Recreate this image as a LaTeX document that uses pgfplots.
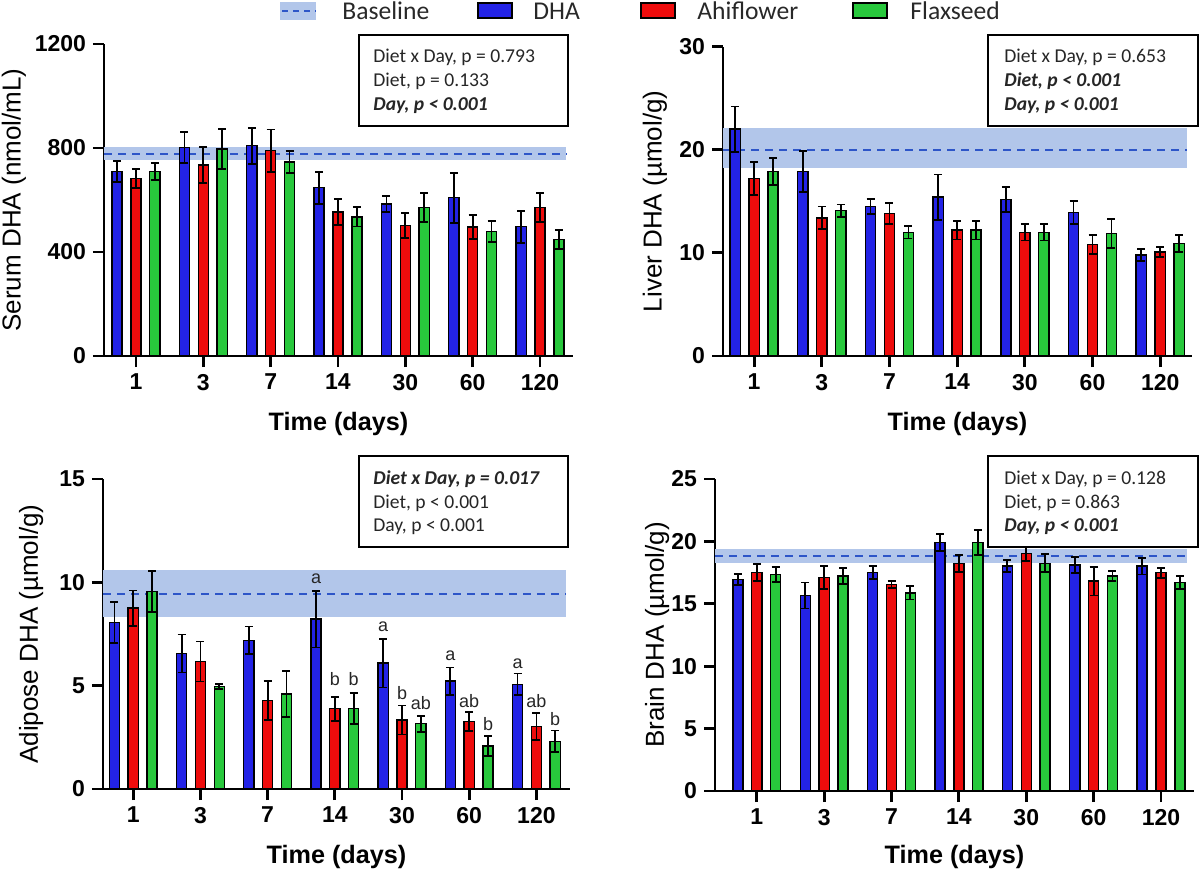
\documentclass[border=0pt]{standalone}
\usepackage{pgfplots}
\pgfplotsset{compat=1.18}
\usepackage{pgfplotstable}
\usepackage{fontspec}
\setmainfont{Liberation Sans}
\newfontfamily\carl{Carlito}

\definecolor{cB}{RGB}{35,35,230}
\definecolor{cR}{RGB}{238,12,12}
\definecolor{cG}{RGB}{40,200,60}
\definecolor{band}{RGB}{178,198,234}
\definecolor{dashc}{RGB}{45,85,200}
\definecolor{legtxt}{RGB}{40,40,40}

\pgfplotstableread{
x B Be R Re G Ge
0 709 41 683 37 709 32
1 803 60 735 70 796 77
2 809 69 790 81 746 42
3 647 61 554 49 535 37
4 585 30 503 48 572 56
5 609 96 496 45 478 40
6 497 62 571 56 449 36
}\serum

\pgfplotstableread{
x B Be R Re G Ge
0 22.0 2.2 17.2 1.6 17.9 1.3
1 17.9 2.0 13.4 1.1 14.1 0.6
2 14.5 0.7 13.8 1.0 12.0 0.6
3 15.4 2.2 12.2 0.9 12.2 0.9
4 15.2 1.2 12.0 0.8 12.0 0.8
5 13.9 1.1 10.8 0.9 11.9 1.4
6 9.8 0.6 10.1 0.5 10.9 0.8
}\liver

\pgfplotstableread{
x B Be R Re G Ge
0 8.06 0.98 8.75 0.86 9.56 1.00
1 6.56 0.92 6.17 0.97 4.97 0.13
2 7.19 0.67 4.28 0.95 4.60 1.10
3 8.22 1.37 3.89 0.58 3.89 0.74
4 6.09 1.18 3.34 0.70 3.16 0.39
5 5.22 0.66 3.26 0.45 2.08 0.47
6 5.07 0.52 3.02 0.65 2.31 0.52
}\adipose

\pgfplotstableread{
x B Be R Re G Ge
0 16.95 0.43 17.49 0.67 17.35 0.62
1 15.67 1.04 17.11 0.91 17.22 0.64
2 17.49 0.53 16.55 0.29 15.88 0.54
3 19.92 0.67 18.24 0.66 19.92 0.99
4 18.02 0.48 19.04 0.60 18.24 0.72
5 18.10 0.62 16.82 1.15 17.22 0.40
6 18.02 0.67 17.49 0.40 16.71 0.51
}\brain

\pgfplotsset{
  panel/.style={
    scale only axis, anchor=south west,
    axis x line*=bottom, axis y line*=left,
    axis line style={line width=1.4pt, black},
    tick style={line width=1.4pt, black},
    major tick length=5.5pt, tick align=outside,
    xtick={0,...,6}, xticklabels={1,3,7,14,30,60,120},
    xticklabel style={font=\bfseries\fontsize{11.5}{12}\selectfont},
    yticklabel style={font=\bfseries\fontsize{11.5}{12}\selectfont},
    /pgf/number format/assume math mode=true,
    /pgf/number format/1000 sep={},
    ymin=0, clip=false,
    xlabel={Time (days)},
    xlabel style={font=\bfseries\fontsize{12.6}{14}\selectfont, at={(axis description cs:0.5,0)}, anchor=base, yshift=-37pt},
    ylabel style={font=\fontsize{13}{14}\selectfont, anchor=center},
  },
  bb/.style={ybar, bar shift=0pt, bar width=0.15, fill=#1, draw=black, line width=0.7pt,
    /pgfplots/error bars/y dir=both, /pgfplots/error bars/y explicit,
    /pgfplots/error bars/error bar style={line width=0.9pt, black},
    /pgfplots/error bars/error mark options={rotate=90, mark size=2pt, line width=0.9pt, black}},
  bandst/.style={fill=band, draw=none, forget plot},
  dashst/.style={dashc, line width=1pt, dash pattern=on 4pt off 3pt, forget plot},
}

\newcommand\px[2]{({#1*0.5pt},{-#2*0.5pt})}

\begin{document}
\begin{tikzpicture}
\useasboundingbox (0,0) rectangle (600pt,-437pt);

% ---------- Serum ----------
\begin{axis}[panel, at={(52pt,-178pt)}, width=234.5pt, height=156pt,
  xmin=-0.475, xmax=6.49, ymax=1200, ytick={0,400,800,1200},
  ylabel={Serum DHA (nmol/mL)}, ylabel style={at={(axis description cs:-0.192,0.5)}}]
\addplot[bandst] coordinates {(-0.475,754) (6.39,754) (6.39,803) (-0.475,803)} -- cycle;
\addplot[dashst] coordinates {(-0.475,777) (6.39,777)};
\addplot[bb=cB] table[x expr=\thisrow{x}-0.28, y=B, y error=Be] {\serum};
\addplot[bb=cR] table[x=x, y=R, y error=Re] {\serum};
\addplot[bb=cG] table[x expr=\thisrow{x}+0.28, y=G, y error=Ge] {\serum};
\end{axis}

% ---------- Liver ----------
\begin{axis}[panel, at={(361.5pt,-178pt)}, width=234.5pt, height=154.7pt,
  xmin=-0.46, xmax=6.47, ymax=30, ytick={0,10,20,30},
  ylabel={Liver DHA (µmol/g)}, ylabel style={at={(axis description cs:-0.145,0.5)}}]
\addplot[bandst] coordinates {(-0.46,18.2) (6.40,18.2) (6.40,22.1) (-0.46,22.1)} -- cycle;
\addplot[dashst] coordinates {(-0.46,20.0) (6.40,20.0)};
\addplot[bb=cB] table[x expr=\thisrow{x}-0.28, y=B, y error=Be] {\liver};
\addplot[bb=cR] table[x=x, y=R, y error=Re] {\liver};
\addplot[bb=cG] table[x expr=\thisrow{x}+0.28, y=G, y error=Ge] {\liver};
\end{axis}

% ---------- Adipose ----------
\begin{axis}[panel, at={(51.5pt,-394.5pt)}, width=233.5pt, height=155pt,
  xmin=-0.45, xmax=6.5, ymax=15, ytick={0,5,10,15},
  ylabel={Adipose DHA (µmol/g)}, ylabel style={at={(axis description cs:-0.154,0.5)}}]
\addplot[bandst] coordinates {(-0.45,8.32) (6.44,8.32) (6.44,10.58) (-0.45,10.58)} -- cycle;
\addplot[dashst] coordinates {(-0.45,9.45) (6.44,9.45)};
\addplot[bb=cB] table[x expr=\thisrow{x}-0.28, y=B, y error=Be] {\adipose};
\addplot[bb=cR] table[x=x, y=R, y error=Re] {\adipose};
\addplot[bb=cG] table[x expr=\thisrow{x}+0.28, y=G, y error=Ge] {\adipose};
\begin{scope}[every node/.style={font=\fontsize{9}{10}\selectfont, anchor=base, inner sep=0pt, text=black!85}]
\node at (axis cs:2.72,9.96) {a};
\node at (axis cs:3,4.99) {b};
\node at (axis cs:3.28,4.99) {b};
\node at (axis cs:3.72,7.62) {a};
\node at (axis cs:4,4.34) {b};
\node at (axis cs:4.28,3.86) {ab};
\node at (axis cs:4.72,6.2) {a};
\node at (axis cs:5,3.94) {ab};
\node at (axis cs:5.28,2.81) {b};
\node at (axis cs:5.72,5.85) {a};
\node at (axis cs:6,3.94) {ab};
\node at (axis cs:6.28,3.05) {b};
\end{scope}
\end{axis}

% ---------- Brain ----------
\begin{axis}[panel, at={(357.5pt,-395.5pt)}, width=239.5pt, height=156pt,
  xmin=-0.62, xmax=6.49, ymax=25, ytick={0,5,10,15,20,25},
  xlabel style={yshift=1pt},
  ylabel={Brain DHA (µmol/g)}, ylabel style={at={(axis description cs:-0.121,0.5)}}]
\addplot[bandst] coordinates {(-0.62,18.29) (6.39,18.29) (6.39,19.36) (-0.62,19.36)} -- cycle;
\addplot[dashst] coordinates {(-0.62,18.8) (6.39,18.8)};
\addplot[bb=cB] table[x expr=\thisrow{x}-0.28, y=B, y error=Be] {\brain};
\addplot[bb=cR] table[x=x, y=R, y error=Re] {\brain};
\addplot[bb=cG] table[x expr=\thisrow{x}+0.28, y=G, y error=Ge] {\brain};
\end{axis}

% ---------- stat boxes ----------
\begin{scope}[every node/.style={anchor=base west, inner sep=0pt, font=\carl\fontsize{9.8}{11}\selectfont, text=black!85}]
\draw[line width=0.9pt, fill=white] \px{359}{35} rectangle \px{568}{126};
\node at \px{373}{62} {Diet x Day, p = 0.793};
\node at \px{373}{86} {Diet, p = 0.133};
\node at \px{373}{110} {\bfseries\itshape Day, p < 0.001};

\draw[line width=0.9pt, fill=white] \px{988}{35} rectangle \px{1198}{126};
\node at \px{1004}{62} {Diet x Day, p = 0.653};
\node at \px{1004}{86} {\bfseries\itshape Diet, p < 0.001};
\node at \px{1004}{110} {\bfseries\itshape Day, p < 0.001};

\draw[line width=0.9pt, fill=white] \px{359}{456} rectangle \px{568}{547};
\node at \px{373}{484} {\bfseries\itshape Diet x Day, p = 0.017};
\node at \px{373}{508} {Diet, p < 0.001};
\node at \px{373}{531} {Day, p < 0.001};

\draw[line width=0.9pt, fill=white] \px{988}{456} rectangle \px{1198}{547};
\node at \px{1004}{484} {Diet x Day, p = 0.128};
\node at \px{1004}{508} {Diet, p = 0.863};
\node at \px{1004}{531} {\bfseries\itshape Day, p < 0.001};
\end{scope}

% ---------- legend ----------
\fill[band] \px{280}{2} rectangle \px{316}{20};
\draw[dashc, line width=1pt, dash pattern=on 3pt off 2.5pt] \px{282}{11} -- \px{316}{11};
\draw[line width=1pt, fill=cB] \px{478}{3} rectangle \px{512}{18};
\draw[line width=1pt, fill=cR] \px{641}{3} rectangle \px{675}{18};
\draw[line width=1pt, fill=cG] \px{853}{3} rectangle \px{887}{18};
\begin{scope}[every node/.style={anchor=base west, inner sep=0pt, font=\carl\fontsize{12.8}{14}\selectfont, text=legtxt}]
\node at \px{342}{19} {Baseline};
\node at \px{533}{19} {DHA};
\node at \px{697}{19} {Ahiflower};
\node at \px{910}{19} {Flaxseed};
\end{scope}
\end{tikzpicture}
\end{document}
